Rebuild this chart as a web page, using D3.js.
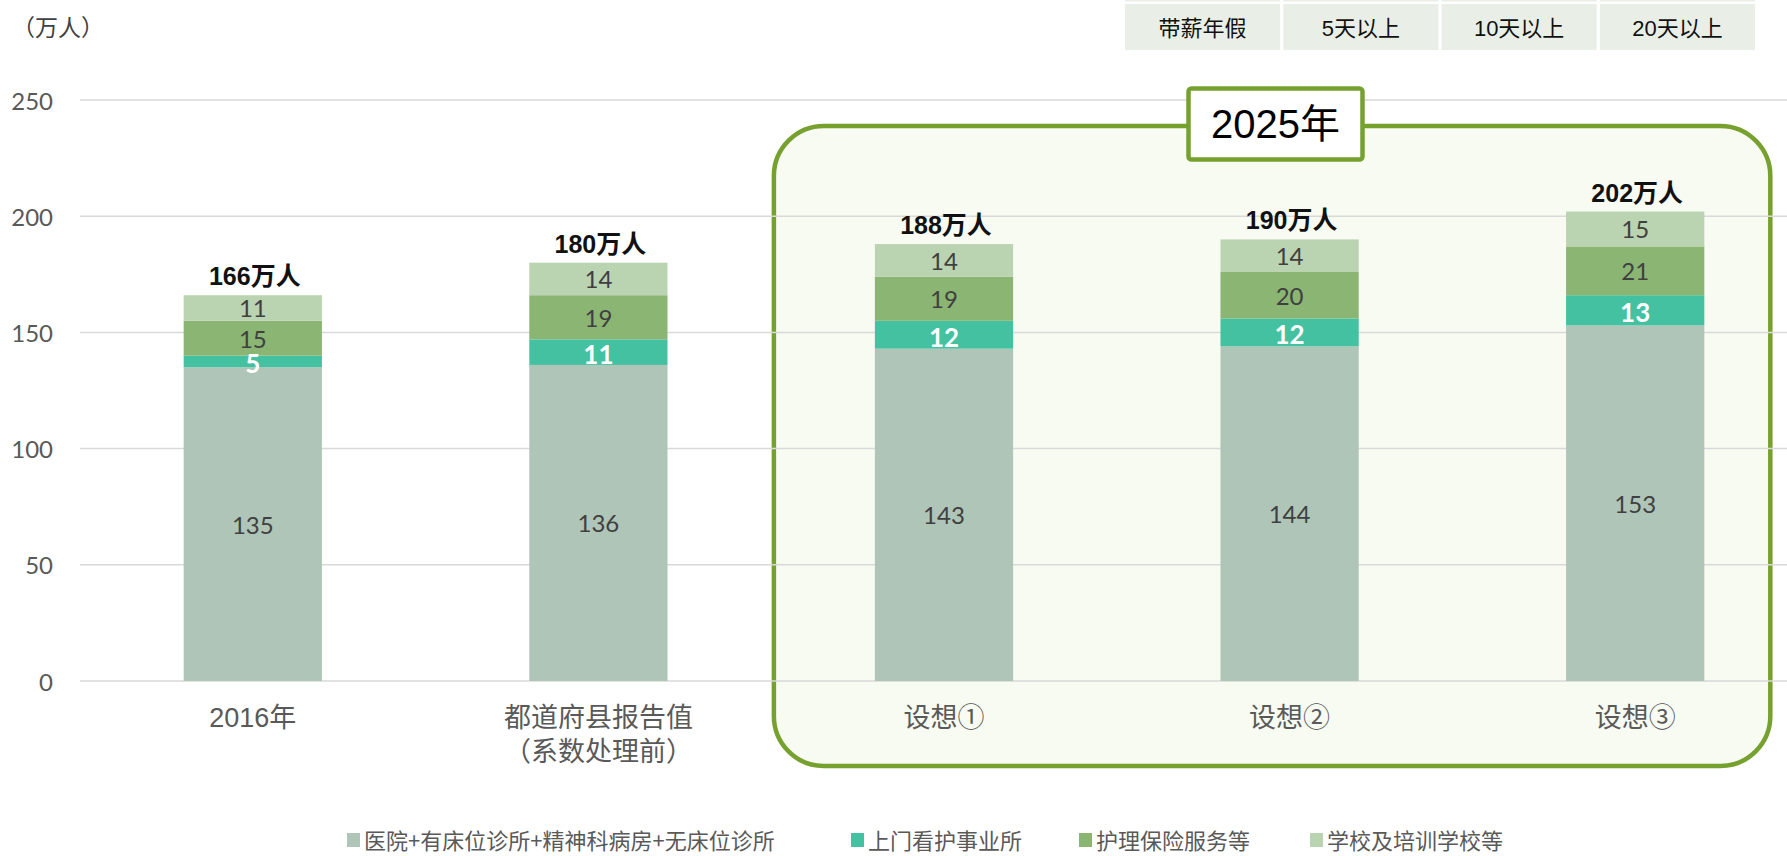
<!DOCTYPE html>
<html>
<head>
<meta charset="utf-8">
<script src="https://cdn.jsdelivr.net/npm/d3@7"></script>
<style>
  html, body { margin: 0; padding: 0; background: #ffffff; }
  svg { display: block; }
</style>
</head>
<body>
<svg id="chart" width="1787" height="856"></svg>
<script>
// Chart data.
const categories = ['2016年', '都道府县报告值', '设想①', '设想②', '设想③'];
const categorySubLines = ['', '（系数处理前）', '', '', ''];
const seriesNames = ['医院+有床位诊所+精神科病房+无床位诊所', '上门看护事业所', '护理保险服务等', '学校及培训学校等'];
const hospital = [135, 136, 143, 144, 153];
const homeNursing = [5, 11, 12, 12, 13];
const careInsurance = [15, 19, 19, 20, 21];
const schools = [11, 14, 14, 14, 15];
const totals = [166, 180, 188, 190, 202];
const yTicks = [0, 50, 100, 150, 200, 250];
const tableCells = ['带薪年假', '5天以上', '10天以上', '20天以上'];
const boxLabel = '2025年';
const unitLabel = '（万人）';

// Colours of the four stacked series.
const seriesColors = ['#aec5b8', '#43c1a0', '#8ab573', '#bad3b0'];
const seriesKeys = ['hospital', 'homeNursing', 'careInsurance', 'schools'];

// Build rows for d3.stack from the arrays above.
const rows = categories.map((c, i) => ({
    cat: c,
    hospital: hospital[i],
    homeNursing: homeNursing[i],
    careInsurance: careInsurance[i],
    schools: schools[i]
}));

const svg = d3.select('#chart');
const numFont = 'Lato, "Noto Sans CJK SC", sans-serif';
const cjkFont = '"Liberation Sans", "Noto Sans CJK SC", sans-serif';

// Scales
const x = d3.scaleBand()
    .domain(categories)
    .range([80, 1808])
    .paddingInner(0.6)
    .paddingOuter(0.3);
const y = d3.scaleLinear()
    .domain([0, 250])
    .range([681, 100]);

// Top-right table strip (partly cut off row above it too)
const cellX = d3.scaleBand()
    .domain(tableCells)
    .range([1125, 1755])
    .paddingInner(0.02);
const table = svg.append('g').attr('id', 'table');
table.selectAll('.cellTop')
    .data(tableCells)
    .enter().append('rect')
    .attr('x', d => cellX(d))
    .attr('y', -10)
    .attr('width', cellX.bandwidth())
    .attr('height', 11.5)
    .style('fill', '#e9efe6');
table.selectAll('.cell')
    .data(tableCells)
    .enter().append('rect')
    .attr('x', d => cellX(d))
    .attr('y', 4)
    .attr('width', cellX.bandwidth())
    .attr('height', 46)
    .style('fill', '#e9efe6');
table.selectAll('.cellText')
    .data(tableCells)
    .enter().append('text')
    .attr('x', d => cellX(d) + cellX.bandwidth() / 2)
    .attr('y', 28)
    .attr('text-anchor', 'middle')
    .attr('dominant-baseline', 'central')
    .style('font-family', cjkFont)
    .style('font-size', '22px')
    .style('fill', '#111111')
    .text(d => d);

// 2025 highlight box behind the last three bars
const boxLeft = x(categories[2]) - 101;
const boxRight = x(categories[4]) + x.bandwidth() + 66;
const boxTop = y(250) + 26;
const boxBottom = 766;
svg.append('rect')
    .attr('x', boxLeft)
    .attr('y', boxTop)
    .attr('width', boxRight - boxLeft)
    .attr('height', boxBottom - boxTop)
    .attr('rx', 50)
    .style('fill', '#f7fbf2')
    .style('stroke', '#76a12f')
    .style('stroke-width', 4.5);

// Gridlines
svg.append('g').attr('id', 'grid')
    .selectAll('line')
    .data(yTicks)
    .enter().append('line')
    .attr('x1', 80)
    .attr('x2', 1787)
    .attr('y1', d => y(d))
    .attr('y2', d => y(d))
    .style('stroke', '#d9d9d9')
    .style('stroke-width', 1.5);

// Y axis labels
svg.append('g').attr('id', 'yAxis')
    .selectAll('text')
    .data(yTicks)
    .enter().append('text')
    .attr('x', 53)
    .attr('y', d => y(d))
    .attr('text-anchor', 'end')
    .attr('dominant-baseline', 'central')
    .style('font-family', numFont)
    .style('font-size', '24px')
    .style('fill', '#595959')
    .text(d => d);

svg.append('text')
    .attr('x', 12)
    .attr('y', 26)
    .attr('dominant-baseline', 'central')
    .style('font-family', '"Noto Sans CJK SC", sans-serif')
    .style('font-size', '23px')
    .style('fill', '#404040')
    .text(unitLabel);

// Stacked bars
const stacked = d3.stack().keys(seriesKeys)(rows);
const body = svg.append('g').attr('id', 'chartBody');
const layers = body.selectAll('.layer')
    .data(stacked)
    .enter().append('g')
    .attr('class', 'layer')
    .style('fill', (d, i) => seriesColors[i]);
layers.selectAll('rect')
    .data(d => d)
    .enter().append('rect')
    .attr('x', d => x(d.data.cat))
    .attr('y', d => y(d[1]))
    .attr('width', x.bandwidth())
    .attr('height', d => y(d[0]) - y(d[1]));

// Segment value labels
stacked.forEach((layer, li) => {
    const bold = li === 1;
    body.selectAll('.val' + li)
        .data(layer)
        .enter().append('text')
        .attr('x', d => x(d.data.cat) + x.bandwidth() / 2)
        .attr('y', d => y((d[0] + d[1]) / 2) + (bold ? 2 : 0))
        .attr('text-anchor', 'middle')
        .attr('dominant-baseline', 'central')
        .style('font-family', numFont)
        .style('font-size', bold ? '26px' : '24px')
        .style('font-weight', bold ? '700' : '400')
        .style('fill', bold ? '#ffffff' : '#404040')
        .text(d => d[1] - d[0]);
});

// Totals above bars
body.selectAll('.total')
    .data(categories)
    .enter().append('text')
    .attr('x', d => x(d) + x.bandwidth() / 2 + 2)
    .attr('y', (d, i) => y(totals[i]) - 10)
    .attr('text-anchor', 'middle')
    .style('font-family', cjkFont)
    .style('font-size', '25px')
    .style('font-weight', '700')
    .style('fill', '#111111')
    .text((d, i) => totals[i] + '万人');

// Category labels
const xAxis = svg.append('g').attr('id', 'xAxis');
xAxis.selectAll('.cat')
    .data(categories)
    .enter().append('text')
    .attr('x', d => x(d) + x.bandwidth() / 2)
    .attr('y', 718)
    .attr('text-anchor', 'middle')
    .attr('dominant-baseline', 'central')
    .style('font-family', cjkFont)
    .style('font-size', '27px')
    .style('fill', '#595959')
    .text(d => d);
xAxis.selectAll('.sub')
    .data(categories)
    .enter().append('text')
    .attr('x', d => x(d) + x.bandwidth() / 2)
    .attr('y', 752)
    .attr('text-anchor', 'middle')
    .attr('dominant-baseline', 'central')
    .style('font-family', cjkFont)
    .style('font-size', '27px')
    .style('fill', '#595959')
    .text((d, i) => categorySubLines[i]);

// 2025 label box on the top edge of the highlight box
svg.append('rect')
    .attr('x', 1188.5)
    .attr('y', 88.5)
    .attr('width', 174)
    .attr('height', 71)
    .attr('rx', 3)
    .style('fill', '#ffffff')
    .style('stroke', '#76a12f')
    .style('stroke-width', 4.5);
svg.append('text')
    .attr('x', 1275.5)
    .attr('y', 124)
    .attr('text-anchor', 'middle')
    .attr('dominant-baseline', 'central')
    .style('font-family', cjkFont)
    .style('font-size', '40px')
    .style('fill', '#000000')
    .text(boxLabel);

// Legend
const legendX = [347, 851, 1079, 1310];
const legend = svg.append('g').attr('id', 'legend');
const items = legend.selectAll('.item')
    .data(seriesNames)
    .enter().append('g')
    .attr('transform', (d, i) => `translate(${legendX[i]}, 839)`);
items.append('rect')
    .attr('x', 0)
    .attr('y', -6)
    .attr('width', 13)
    .attr('height', 14)
    .style('fill', (d, i) => seriesColors[i]);
items.append('text')
    .attr('x', 17)
    .attr('y', 0)
    .attr('dominant-baseline', 'central')
    .style('font-family', '"Noto Sans CJK SC", sans-serif')
    .style('font-size', '22px')
    .style('fill', '#595959')
    .text(d => d);
</script>
</body>
</html>
